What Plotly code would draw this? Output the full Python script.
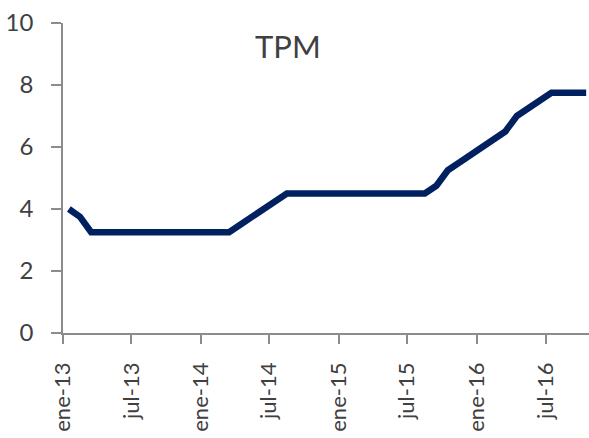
import plotly.graph_objects as go

months = [f"{y}-{m:02d}" for y in (2013, 2014, 2015, 2016) for m in range(1, 13)][:46]
tpm = [4.0, 3.75, 3.25, 3.25, 3.25, 3.25, 3.25, 3.25, 3.25, 3.25, 3.25, 3.25,
       3.25, 3.25, 3.25, 3.5, 3.75, 4.0, 4.25, 4.5, 4.5, 4.5, 4.5, 4.5,
       4.5, 4.5, 4.5, 4.5, 4.5, 4.5, 4.5, 4.5, 4.75, 5.25, 5.5, 5.75,
       6.0, 6.25, 6.5, 7.0, 7.25, 7.5, 7.75, 7.75, 7.75, 7.75]
tick_dates = ["2013-01-01", "2013-07-01", "2014-01-01", "2014-07-01",
              "2015-01-01", "2015-07-01", "2016-01-01", "2016-07-01"]
tick_text = ["ene-13", "jul-13", "ene-14", "jul-14", "ene-15", "jul-15", "ene-16", "jul-16"]
y_ticks = [0, 2, 4, 6, 8, 10]

FONT = "Lato"
TXT = "#404040"
AX = "#8c8c8c"

fig = go.Figure(go.Scatter(
    x=months, y=tpm, mode="lines",
    xperiod="M1", xperiodalignment="middle",
    line=dict(color="#002060", width=6.5),
    showlegend=False, hoverinfo="skip",
))

fig.update_layout(
    width=589, height=438,
    margin=dict(l=63, r=0, t=23, b=105),
    paper_bgcolor="white", plot_bgcolor="white",
    font=dict(family=FONT, color=TXT, size=25),
    annotations=[dict(text="TPM", x=0.428, y=0.925, xref="paper", yref="paper",
                      xanchor="center", yanchor="middle", showarrow=False,
                      font=dict(family=FONT, size=31, color=TXT))],
)
fig.update_xaxes(
    type="date", range=["2013-01-01", "2016-10-24"], automargin=False,
    tickvals=tick_dates, ticktext=tick_text, tickangle=-90,
    showline=True, linecolor=AX, linewidth=1.5,
    ticks="outside", ticklen=9, tickcolor=AX, tickwidth=1.5,
    showgrid=False, zeroline=False, ticklabelstandoff=10,
    ticklabeloverflow="allow",
    tickfont=dict(family=FONT, size=22, color=TXT),
)
fig.update_yaxes(
    range=[0, 10], tickvals=y_ticks, automargin=False,
    showline=True, linecolor=AX, linewidth=1.5,
    ticks="outside", ticklen=10, tickcolor=AX, tickwidth=1.5,
    showgrid=False, zeroline=False, ticklabelstandoff=13,
    ticklabeloverflow="allow",
    tickfont=dict(family=FONT, size=24, color=TXT),
)

fig.write_html("out.html", config={"displayModeBar": False},
               post_script="document.body.style.margin='0';document.body.style.overflow='hidden';")
